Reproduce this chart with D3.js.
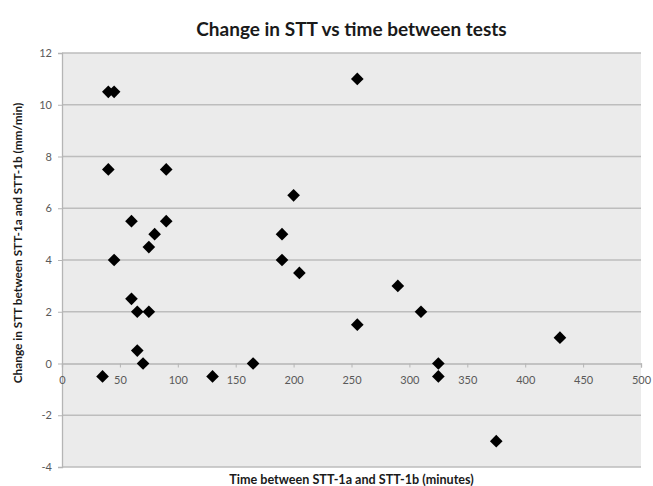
<!DOCTYPE html>
<html>
<head>
<meta charset="utf-8">
<script src="https://cdn.jsdelivr.net/npm/d3@7"></script>
<style>
  body { margin: 0; background: #fff; }
  svg text { font-family: Lato, "Open Sans", sans-serif; }
  .tick text { fill: #595959; font-size: 11px; }
</style>
</head>
<body>
<div id="chart"></div>
<script>
// minutes between tests
var timeVals = [35, 40, 45, 40, 45, 60, 60, 65, 65, 70, 75, 75, 80, 90, 90,
  130, 165, 190, 190, 200, 205, 255, 255, 290, 310, 325, 325, 375, 430];
// change in STT (mm/min)
var changeVals = [-0.5, 10.5, 10.5, 7.5, 4, 5.5, 2.5, 2, 0.5, 0, 4.5, 2, 5, 7.5, 5.5,
  -0.5, 0, 5, 4, 6.5, 3.5, 11, 1.5, 3, 2, 0, -0.5, -3, 1];
var xTicks = [0, 50, 100, 150, 200, 250, 300, 350, 400, 450, 500];
var yTicks = [-4, -2, 0, 2, 4, 6, 8, 10, 12];

var svgWidth = 653;
var svgHeight = 486;
var margin = { top: 53, right: 12, bottom: 19, left: 62 };
var width = svgWidth - margin.left - margin.right;
var height = svgHeight - margin.top - margin.bottom;

var svg = d3.select("#chart")
  .append("svg")
  .attr("width", svgWidth)
  .attr("height", svgHeight);

var chartGroup = svg.append("g")
  .attr("transform", `translate(${margin.left}, ${margin.top})`);

var xScale = d3.scaleLinear().domain([0, 500]).range([0, width]);
var yScale = d3.scaleLinear().domain([-4, 12]).range([height, 0]);

// plot background
chartGroup.append("rect")
  .attr("width", width)
  .attr("height", height)
  .attr("fill", "#ebebeb");

// horizontal gridlines
chartGroup.selectAll(".grid")
  .data(yTicks.filter(d => d !== 0))
  .enter()
  .append("line")
  .attr("x1", 0)
  .attr("x2", width)
  .attr("y1", d => yScale(d))
  .attr("y2", d => yScale(d))
  .attr("stroke", "#bdbdbd")
  .attr("stroke-width", 1.3);

// plain hyphen for negatives, like the original
var fmt = d => String(d);

// y axis
var yAxis = chartGroup.append("g")
  .call(d3.axisLeft(yScale).tickValues(yTicks).tickFormat(fmt).tickSize(4).tickPadding(6));
yAxis.select(".domain").attr("stroke", "#b5b5b5").attr("stroke-width", 1.3);
yAxis.selectAll(".tick line").attr("stroke", "#b5b5b5");

// x axis sits on zero
var xAxis = chartGroup.append("g")
  .attr("transform", `translate(0, ${yScale(0)})`)
  .call(d3.axisBottom(xScale).tickValues(xTicks).tickFormat(fmt).tickSize(4).tickPadding(9));
xAxis.select(".domain").attr("stroke", "#b5b5b5").attr("stroke-width", 1.3);
xAxis.selectAll(".tick line").attr("stroke", "#b5b5b5");

// diamonds
var diamond = d3.symbol().type(d3.symbolSquare).size(80);
chartGroup.selectAll(".pt")
  .data(timeVals.map((t, i) => ({ t: t, c: changeVals[i] })))
  .enter()
  .append("path")
  .attr("d", diamond)
  .attr("transform", d => `translate(${xScale(d.t)}, ${yScale(d.c)}) rotate(45)`)
  .attr("fill", "#000");

// title
svg.append("text")
  .attr("x", margin.left + width / 2)
  .attr("y", 36)
  .attr("text-anchor", "middle")
  .attr("font-size", "19px")
  .attr("font-weight", "bold")
  .attr("fill", "#1a1a1a")
  .text("Change in STT vs time between tests");

// axis titles
svg.append("text")
  .attr("x", margin.left + width / 2)
  .attr("y", 484)
  .attr("text-anchor", "middle")
  .attr("font-size", "12.6px")
  .attr("font-weight", "bold")
  .attr("fill", "#1a1a1a")
  .text("Time between STT-1a and STT-1b (minutes)");

svg.append("text")
  .attr("transform", "translate(22, 243) rotate(-90)")
  .attr("text-anchor", "middle")
  .attr("font-size", "11.8px")
  .attr("font-weight", "bold")
  .attr("fill", "#1a1a1a")
  .text("Change in STT between STT-1a and STT-1b (mm/min)");
</script>
</body>
</html>
